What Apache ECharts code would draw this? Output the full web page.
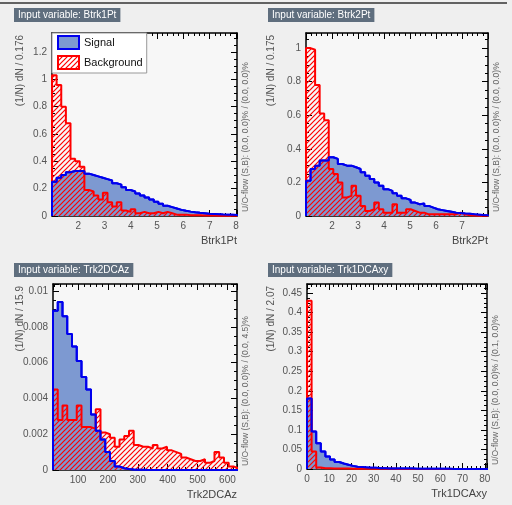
<!DOCTYPE html>
<html><head><meta charset="utf-8">
<script src="https://cdn.jsdelivr.net/npm/echarts@6/dist/echarts.min.js"></script>
<style>html,body{margin:0;padding:0;background:#efefef;}#c{width:512px;height:505px;}</style>
</head><body><div id="c"></div>
<script>
// ---------------- data ----------------
const panelTitles = ['Input variable: Btrk1Pt', 'Input variable: Btrk2Pt', 'Input variable: Trk2DCAz', 'Input variable: Trk1DCAxy'];
const xTitles = ['Btrk1Pt', 'Btrk2Pt', 'Trk2DCAz', 'Trk1DCAxy'];
const yTitles = ['(1/N) dN / 0.176', '(1/N) dN / 0.175', '(1/N) dN / 15.9', '(1/N) dN / 2.07'];
const flowTexts = [
  'U/O-flow (S,B): (0.0, 0.0)% / (0.0, 0.0)%',
  'U/O-flow (S,B): (0.0, 0.0)% / (0.0, 0.0)%',
  'U/O-flow (S,B): (0.0, 0.0)% / (0.0, 4.5)%',
  'U/O-flow (S,B): (0.0, 0.0)% / (0.1, 0.0)%'
];
const seriesNames = ['Signal', 'Background'];
const binStart = [1.0, 1.0, 16, 0];
const binWidth = [0.176, 0.175, 15.9, 2.07];
const xMin = [1.0, 1.0, 16, 0];
const xMax = [8.04, 8.0, 632, 81];
const xTickStep = [1, 1, 100, 10];
const yMax = [1.34, 1.09, 0.0104, 0.473];
const yTickStep = [0.2, 0.2, 0.002, 0.05];

const sigBtrk1Pt = [0.25,0.28,0.30,0.32,0.33,0.33,0.33,0.31,0.30,0.29,
  0.28,0.27,0.26,0.24,0.23,0.21,0.19,0.18,0.165,0.15,
  0.135,0.12,0.105,0.09,0.075,0.065,0.055,0.045,0.038,0.032,
  0.027,0.023,0.02,0.017,0.015,0.013,0.011,0.01,0.009,0.008];
const bkgBtrk1Pt = [1.03,0.96,0.80,0.68,0.42,0.40,0.36,0.19,0.18,0.15,
  0.12,0.17,0.10,0.07,0.10,0.04,0.03,0.05,0.02,0.03,
  0.02,0.02,0.03,0.02,0.03,0.02,0.01,0.01,0.01,0.005,
  0.005,0.005,0.004,0.003,0.003,0.002,0.002,0.002,0.002,0.002];
const sigBtrk2Pt = [0.21,0.28,0.30,0.33,0.33,0.35,0.34,0.31,0.30,0.30,
  0.29,0.28,0.26,0.24,0.22,0.20,0.18,0.16,0.15,0.135,
  0.12,0.105,0.095,0.08,0.07,0.075,0.06,0.05,0.04,0.035,
  0.03,0.025,0.02,0.018,0.015,0.013,0.01,0.008,0.006,0.005];
const bkgBtrk2Pt = [1.0,0.99,0.78,0.61,0.57,0.28,0.25,0.20,0.11,0.12,
  0.18,0.12,0.06,0.03,0.04,0.08,0.04,0.02,0.02,0.07,
  0.02,0.02,0.04,0.03,0.02,0.02,0.01,0.01,0.01,0.01,
  0.01,0.01,0.01,0.02,0.01,0.005,0.003,0.002,0.002,0.002];
const sigTrk2DCAz = [0.0089,0.0094,0.0086,0.0076,0.0069,0.0061,0.0052,0.0045,0.0031,0.0022,
  0.0017,0.0010,0.0005,0.0002,0.0001,0.00005,0.00003,0.00002,0.00001,0,
  0,0,0,0,0,0,0,0,0,0, 0,0,0,0,0,0,0,0,0,0];
const bkgTrk2DCAz = [0.0045,0.0028,0.0036,0.0028,0.0028,0.0036,0.0024,0.0024,0.0023,0.0034,
  0.0021,0.0020,0.0018,0.0013,0.0017,0.0019,0.0022,0.0014,0.0013,0.0013,
  0.0012,0.0014,0.0012,0.0013,0.0011,0.0010,0.0009,0.0007,0.0006,0.0005,
  0.0005,0.0006,0.0004,0.0005,0.0010,0.0007,0.0004,0.0002,0.0001,0.0001];
const sigTrk1DCAxy = [0.18,0.096,0.066,0.045,0.032,0.024,0.018,0.014,0.011,0.008,
  0.006,0.005,0.004,0.003,0.003,0.002,0.002,0.0015,0.0015,0.001,
  0.001,0.001,0.001,0.0008,0.0008,0.0006,0.0006,0.0005,0.0005,0.0004,
  0.0004,0.0003,0.0003,0.0003,0.0002,0.0002,0.0002,0.0002,0.0001,0.0001];
const bkgTrk1DCAxy = [0.43,0.045,0.004,0.002,0.002,0.001,0.001,0.001,0.001,0.0008,
  0.0008,0.0006,0.0006,0.0005,0.0005,0.0005,0.0004,0.0004,0.0004,0.0003,
  0.0003,0.0003,0.0003,0.0003,0.0003,0.0003,0.0003,0.0003,0.0003,0.0003,
  0.0003,0.0003,0.0003,0.0003,0.0003,0.0003,0.0003,0.0003,0.0003,0.0003];
const sigValues = [sigBtrk1Pt, sigBtrk2Pt, sigTrk2DCAz, sigTrk1DCAxy];
const bkgValues = [bkgBtrk1Pt, bkgBtrk2Pt, bkgTrk2DCAz, bkgTrk1DCAxy];

// ---------------- layout / style ----------------
const grids = [
  {left: 52, top: 33, width: 185, height: 183},
  {left: 306, top: 33, width: 182, height: 183},
  {left: 53, top: 284, width: 184, height: 186},
  {left: 307, top: 284, width: 180, height: 185}
];
const xLabelShow = [v => v > 1.5, v => v > 1.5 && v < 7.5, v => true, v => true];
const FONT = 'Liberation Sans, Arial, sans-serif';
const SIG_FILL = '#7d99d1', SIG_LINE = '#0000ee', BKG_LINE = '#ff0000';

function hatch() {
  const s = 5, c = document.createElement('canvas');
  c.width = s; c.height = s;
  const g = c.getContext('2d');
  g.strokeStyle = BKG_LINE; g.lineWidth = 1.2;
  g.beginPath();
  g.moveTo(-1, s + 1); g.lineTo(s + 1, -1);
  g.moveTo(-1, 1); g.lineTo(1, -1);
  g.moveTo(s - 1, s + 1); g.lineTo(s + 1, s - 1);
  g.stroke();
  return c;
}
const hatchPattern = {image: hatch(), repeat: 'repeat'};

function histPoints(start, width, vals) {
  const pts = [[start, 0]];
  vals.forEach((v, i) => pts.push([start + width * i, v]));
  const end = start + width * vals.length;
  pts.push([end, vals[vals.length - 1]]);
  pts.push([end, 0]);
  return pts;
}
function isMult(v, step) { const r = v / step; return Math.abs(r - Math.round(r)) < 1e-6; }
function fmt(v) { return String(parseFloat(v.toFixed(6))); }

const blackLine = {lineStyle: {color: '#000', width: 1.5}};
const tickStyle = {color: '#000', width: 1};
const xAxes = [], yAxes = [], series = [], graphics = [], titles = [];

grids.forEach((g, i) => {
  const common = {
    gridIndex: i, type: 'value', min: xMin[i], max: xMax[i], splitLine: {show: false},
    axisLine: {show: true, onZero: false, ...blackLine},
    axisTick: {show: true, inside: true, length: 6, lineStyle: tickStyle},
    minorTick: {show: true, splitNumber: 5, length: 3, lineStyle: tickStyle}
  };
  if (i !== 2) common.interval = xTickStep[i];
  else common.splitNumber = 6;
  xAxes.push(Object.assign({}, common, {
    position: 'bottom',
    axisLabel: {show: true, color: '#555', fontSize: 10, fontFamily: FONT, margin: 5,
      showMinLabel: true, showMaxLabel: true,
      formatter: v => (isMult(v, xTickStep[i]) && xLabelShow[i](v)) ? fmt(v) : ''}
  }));
  xAxes.push(Object.assign({}, common, {position: 'top', axisLabel: {show: false}}));
  const yc = {
    gridIndex: i, type: 'value', min: 0, max: yMax[i], interval: yTickStep[i], splitLine: {show: false},
    axisLine: {show: true, onZero: false, ...blackLine},
    axisTick: {show: true, inside: true, length: 6, lineStyle: tickStyle},
    minorTick: {show: true, splitNumber: 4, length: 3, lineStyle: tickStyle}
  };
  yAxes.push(Object.assign({}, yc, {
    position: 'left',
    axisLabel: {show: true, color: '#555', fontSize: 10, fontFamily: FONT, margin: 5,
      formatter: v => isMult(v, yTickStep[i]) ? fmt(v) : ''}
  }));
  yAxes.push(Object.assign({}, yc, {position: 'right', axisLabel: {show: false}}));

  const sigPts = histPoints(binStart[i], binWidth[i], sigValues[i]);
  const bkgPts = histPoints(binStart[i], binWidth[i], bkgValues[i]);
  const base = {type: 'line', xAxisIndex: 2 * i, yAxisIndex: 2 * i, step: 'end', symbol: 'none',
    showSymbol: false, clip: true, silent: true, animation: false};
  series.push(Object.assign({}, base, {name: seriesNames[0], data: sigPts, z: 2,
    lineStyle: {color: SIG_LINE, width: 2}, itemStyle: {color: SIG_FILL},
    areaStyle: {color: SIG_FILL, opacity: 1}}));
  series.push(Object.assign({}, base, {name: seriesNames[1], data: bkgPts, z: 3,
    lineStyle: {color: BKG_LINE, width: 2}, itemStyle: {color: BKG_LINE},
    areaStyle: {color: hatchPattern, opacity: 1}}));
  series.push(Object.assign({}, base, {name: seriesNames[0], data: sigPts, z: 4,
    lineStyle: {color: SIG_LINE, width: 2}, itemStyle: {color: SIG_FILL}}));

  titles.push({
    text: panelTitles[i], left: i % 2 === 0 ? 14 : 268, top: i < 2 ? 8 : 263,
    backgroundColor: '#5f6e7e', padding: [2, 4, 2, 4],
    textStyle: {color: '#fff', fontSize: 10, fontWeight: 'normal', fontFamily: FONT}
  });
  const right = g.left + g.width, bottom = g.top + g.height;
  graphics.push({type: 'text', x: right, y: bottom + 25, z: 10,
    style: {text: xTitles[i], fill: '#444', font: '11px ' + FONT, textAlign: 'right', textVerticalAlign: 'middle'}});
  graphics.push({type: 'text', x: i % 2 === 0 ? 20 : 271, y: g.top + 2, rotation: Math.PI / 2, z: 10,
    style: {text: yTitles[i], fill: '#555', font: '10px ' + FONT, textAlign: 'right', textVerticalAlign: 'middle'}});
  graphics.push({type: 'text', x: right + 9, y: bottom - 4, rotation: Math.PI / 2, z: 10,
    style: {text: flowTexts[i], fill: '#666', font: '8.5px ' + FONT, textAlign: 'left', textVerticalAlign: 'middle'}});
});
graphics.push({type: 'line', shape: {x1: 0, y1: 3, x2: 507, y2: 3}, style: {stroke: '#333', lineWidth: 1.5}});

const chart = echarts.init(document.getElementById('c'), null, {renderer: 'canvas', width: 512, height: 505});
chart.setOption({
  animation: false,
  backgroundColor: '#efefef',
  title: titles,
  grid: grids.map(g => Object.assign({}, g, {show: true, backgroundColor: '#f7f7f7', borderWidth: 0, containLabel: false})),
  xAxis: xAxes,
  yAxis: yAxes,
  legend: {
    show: true, orient: 'vertical', left: 52, top: 33, selectedMode: false,
    backgroundColor: '#ffffff', borderColor: '#999', borderWidth: 1,
    padding: [2, 4, 3, 5], itemGap: 5, itemWidth: 21, itemHeight: 13,
    textStyle: {fontSize: 11, color: '#111', fontFamily: FONT},
    data: [
      {name: seriesNames[0], icon: 'rect', itemStyle: {color: SIG_FILL, borderColor: SIG_LINE, borderWidth: 2}},
      {name: seriesNames[1], icon: 'rect', itemStyle: {color: hatchPattern, borderColor: BKG_LINE, borderWidth: 2}}
    ],
    z: 20
  },
  graphic: graphics,
  series: series
});
</script>
</body></html>
